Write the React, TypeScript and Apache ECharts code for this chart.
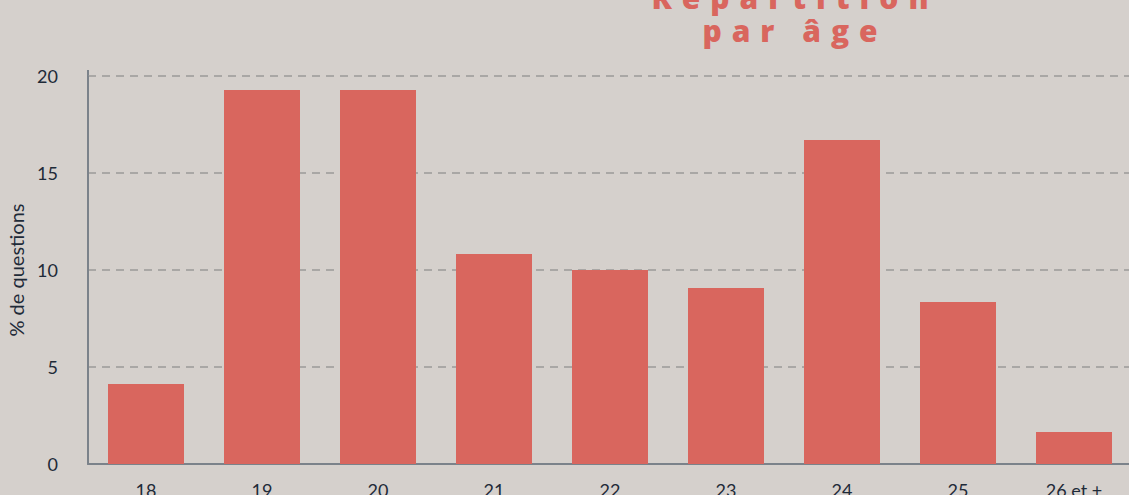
import React, { useEffect, useRef } from "react";
import * as echarts from "echarts";

const categories = ["18", "19", "20", "21", "22", "23", "24", "25", "26 et +"];
const values = [4.12, 19.28, 19.28, 10.82, 10.0, 9.07, 16.7, 8.35, 1.65];
const yTicks = { min: 0, max: 20, interval: 5 };
const titleLines = ["Répartition", "par âge"];
const yAxisName = "% de questions";

const spaced = (s: string) => s.split("").join("\u2004");

export default function App() {
  const ref = useRef<HTMLDivElement>(null);
  useEffect(() => {
    document.body.style.margin = "0";
    document.body.style.overflow = "hidden";
    document.documentElement.style.overflow = "hidden";
    if (!ref.current) return;
    const chart = echarts.init(ref.current, null, { renderer: "svg" });
    const textColor = "#1e2a38";
    const axisColor = "#7b828a";
    chart.setOption({
      animation: false,
      backgroundColor: "#d5d0cc",
      textStyle: { fontFamily: "Lato" },
      grid: {
        left: 88,
        top: 76,
        right: -3,
        bottom: 31,
        containLabel: false,
        outerBoundsMode: "none",
      },
      graphic: [
        {
          type: "text",
          x: 790,
          y: -3,
          style: {
            text: spaced(titleLines[0]),
            font: "800 30px 'Open Sans'",
            fill: "#d9665e",
            textAlign: "center",
            textVerticalAlign: "middle",
          },
        },
        {
          type: "text",
          x: 790,
          y: 30,
          style: {
            text: spaced(titleLines[1]),
            font: "800 30px 'Open Sans'",
            fill: "#d9665e",
            textAlign: "center",
            textVerticalAlign: "middle",
          },
        },
        {
          type: "line",
          shape: { x1: 88, y1: 70, x2: 88, y2: 77 },
          style: { stroke: axisColor, lineWidth: 2 },
        },
      ],
      xAxis: {
        type: "category",
        data: categories,
        axisLine: { show: true, lineStyle: { color: axisColor, width: 2 } },
        axisTick: { show: false },
        axisLabel: { color: textColor, fontSize: 18, margin: 17, fontFamily: "Lato" },
      },
      yAxis: {
        type: "value",
        min: yTicks.min,
        max: yTicks.max,
        interval: yTicks.interval,
        name: yAxisName,
        nameLocation: "middle",
        nameGap: 60,
        nameTextStyle: { color: textColor, fontSize: 20, fontFamily: "Lato" },
        axisLine: { show: true, lineStyle: { color: axisColor, width: 2 } },
        axisTick: { show: false },
        axisLabel: { color: textColor, fontSize: 18, margin: 30, fontFamily: "Lato" },
        splitLine: {
          show: true,
          lineStyle: { color: "#a9a7a5", width: 2, type: [8, 6] },
        },
      },
      series: [
        {
          type: "bar",
          data: values,
          barWidth: 76,
          itemStyle: { color: "#d9665e" },
        },
      ],
    });
    return () => chart.dispose();
  }, []);
  return <div ref={ref} style={{ width: 1129, height: 495, overflow: "hidden" }} />;
}
